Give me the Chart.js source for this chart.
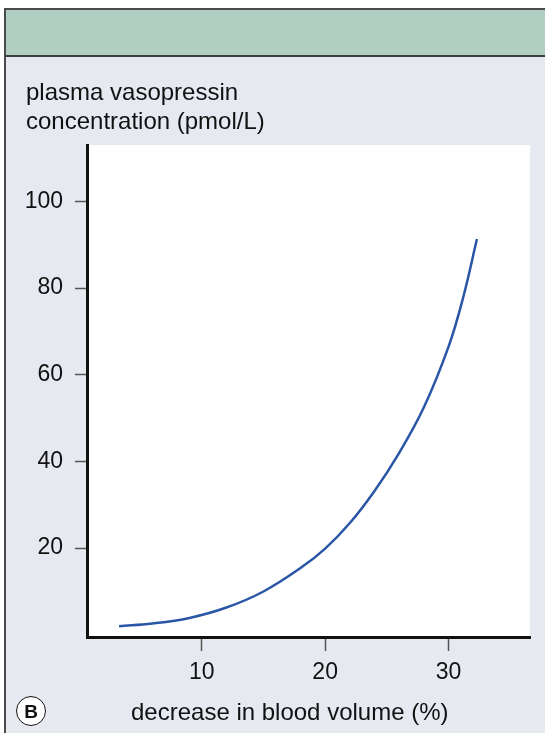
<!DOCTYPE html>
<html>
<head>
<meta charset="utf-8">
<script src="https://cdn.jsdelivr.net/npm/chart.js@4.4.1/dist/chart.umd.min.js"></script>
<style>
  body { margin: 0; background: #fff; }
  #wrap { position: relative; width: 545px; height: 733px; overflow: hidden; font-family: "Liberation Sans", Arial, sans-serif; }
  #frame { position: absolute; left: 4px; top: 8px; width: 560px; height: 740px; background: #e7e9f1; border-left: 2px solid #4a4a4a; border-top: 2px solid #4a4a4a; }
  #band { position: absolute; left: 6px; top: 10px; width: 560px; height: 45px; background: #b0cfc2; border-bottom: 2px solid #3e3e3e; }
  #ytitle { position: absolute; left: 26px; top: 77px; font-size: 24px; line-height: 29px; color: #111; z-index: 3; }
  #xtitle { position: absolute; left: 131px; top: 697px; font-size: 24px; line-height: 29px; color: #111; z-index: 3; white-space: nowrap; }
  #badge { position: absolute; left: 16px; top: 696px; width: 28px; height: 28px; border: 1.5px solid #111; border-radius: 50%; background: #fff;
           font-weight: bold; font-size: 19px; line-height: 29px; text-align: center; color: #111; z-index: 3; }
  canvas { position: absolute; left: 0; top: 0; z-index: 2; }
</style>
</head>
<body>
<div id="wrap">
  <div id="frame"></div>
  <div id="band"></div>
  <div id="ytitle">plasma vasopressin<br>concentration (pmol/L)</div>
  <canvas id="myChart" width="545" height="733"></canvas>
  <div id="xtitle">decrease in blood volume (%)</div>
  <div id="badge">B</div>
</div>
<script>
// values
var volumeDecrease = [3.3, 6, 9, 12, 15, 18, 20, 22, 24, 26, 28, 30, 31.2, 32.3];
var vasopressin = [2.0, 2.6, 3.9, 6.3, 10.0, 15.4, 19.9, 25.8, 33.2, 42.0, 52.5, 66.5, 78.0, 91.3];
var xTicks = [10, 20, 30];
var yTicks = [20, 40, 60, 80, 100];

var points = [];
volumeDecrease.forEach(function(v, i) {
	points.push({ x: v, y: vasopressin[i] });
});

// white plot area
var plotBg = {
	id: 'plotBg',
	beforeDraw: function(chart) {
		var a = chart.chartArea;
		var c = chart.ctx;
		c.save();
		c.fillStyle = '#ffffff';
		c.fillRect(a.left, a.top, a.right - a.left, a.bottom - a.top);
		c.restore();
	}
};

var ctx = document.getElementById('myChart').getContext('2d');
var myChart = new Chart(ctx, {
	type: 'line',
	data: {
		datasets: [{
			data: points,
			borderColor: '#2a56a6',
			borderWidth: 2.5,
			pointRadius: 0,
			fill: false,
			tension: 0.4
		}]
	},
	options: {
		responsive: false,
		animation: false,
		layout: { padding: { left: 0, top: 145, right: 15, bottom: 0 } },
		plugins: { legend: { display: false }, tooltip: { enabled: false } },
		scales: {
			x: {
				type: 'linear',
				min: 0.7,
				max: 36.6,
				afterBuildTicks: function(scale) {
					scale.ticks = xTicks.map(function(v) { return { value: v }; });
				},
				afterFit: function(scale) { scale.height = 96; },
				grid: { display: true, drawOnChartArea: false, drawTicks: true, tickLength: 14, tickColor: '#555', tickWidth: 1.5 },
				border: { display: true, color: '#111', width: 3 },
				ticks: { color: '#111', font: { family: 'Liberation Sans, Arial, sans-serif', size: 23 }, padding: 8, maxRotation: 0 }
			},
			y: {
				type: 'linear',
				min: -0.5,
				max: 113,
				afterBuildTicks: function(scale) {
					scale.ticks = yTicks.map(function(v) { return { value: v }; });
				},
				afterFit: function(scale) { scale.width = 87; },
				grid: { display: true, drawOnChartArea: false, drawTicks: true, tickLength: 12, tickColor: '#555', tickWidth: 1.5 },
				border: { display: true, color: '#111', width: 3 },
				ticks: { color: '#111', font: { family: 'Liberation Sans, Arial, sans-serif', size: 23 }, padding: 12 }
			}
		}
	},
	plugins: [plotBg]
});
</script>
</body>
</html>
